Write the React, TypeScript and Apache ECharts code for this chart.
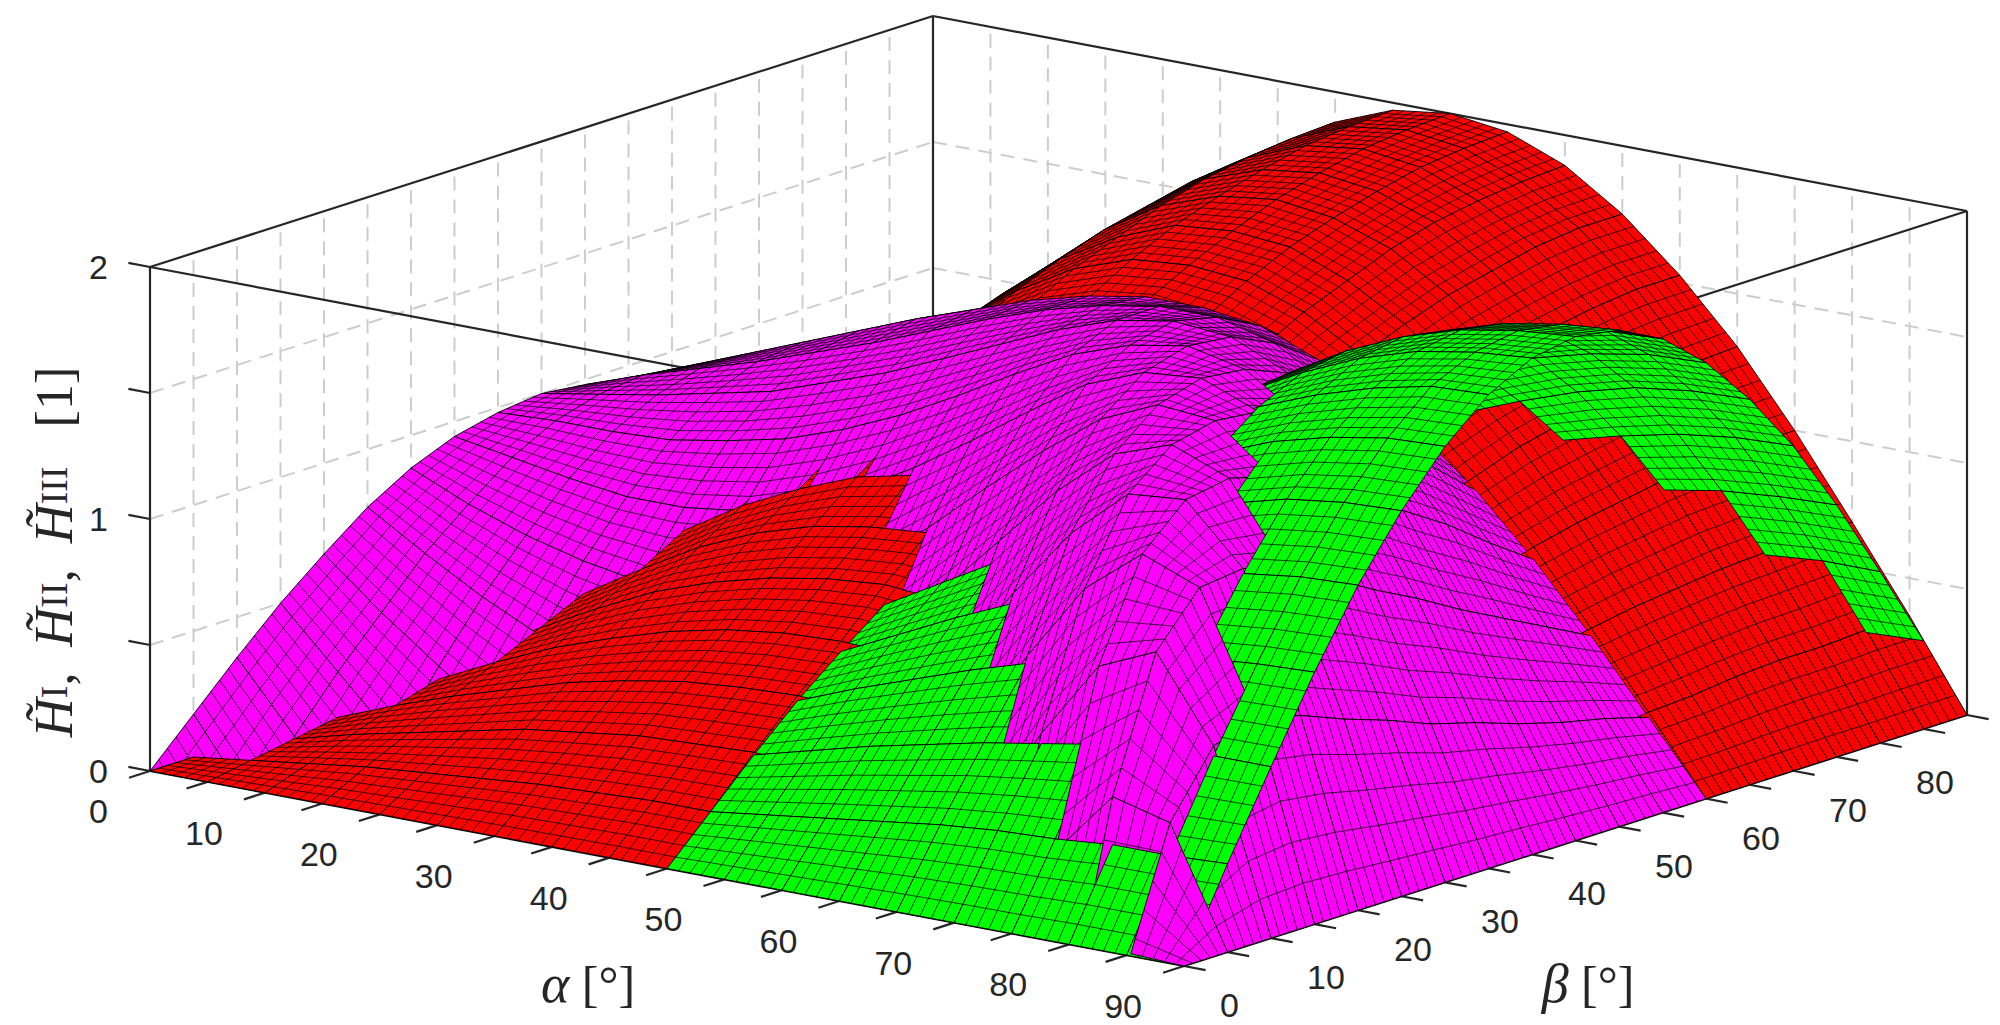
import React, { useEffect, useRef } from "react";
import * as echarts from "echarts";

// grid of the three surfaces: rows = alpha, columns = beta
const ALPHA = [0, 5, 10, 15, 20, 25, 30, 35, 40, 45, 50, 55, 60, 65, 70, 75, 80, 85, 90];
const BETA = [0, 5, 10, 15, 20, 25, 30, 35, 40, 45, 50, 55, 60, 65, 70, 75, 80, 85, 90];
const Z_TICKS = [0, 0.5, 1, 1.5, 2];
const Z_LABELS = [0, 1, 2];
const ALPHA_LABELS = [0, 10, 20, 30, 40, 50, 60, 70, 80, 90];
const BETA_LABELS = [0, 10, 20, 30, 40, 50, 60, 70, 80];

const H_I = [
  [0, 0, 0, 0, 0, 0, 0, 0, 0, 0, 0, 0, 0, 0, 0, 0, 0, 0, 0],
  [0, 0.03, 0.06, 0.09, 0.12, 0.15, 0.17, 0.2, 0.22, 0.25, 0.27, 0.28, 0.3, 0.31, 0.33, 0.34, 0.34, 0.35, 0.35],
  [0, 0.06, 0.12, 0.18, 0.23, 0.29, 0.34, 0.39, 0.44, 0.48, 0.52, 0.56, 0.59, 0.62, 0.64, 0.66, 0.67, 0.68, 0.68],
  [0, 0.09, 0.17, 0.26, 0.34, 0.42, 0.5, 0.57, 0.64, 0.71, 0.77, 0.82, 0.87, 0.91, 0.94, 0.97, 0.98, 1, 1],
  [0, 0.11, 0.22, 0.33, 0.44, 0.54, 0.64, 0.74, 0.83, 0.91, 0.98, 1.05, 1.11, 1.17, 1.21, 1.24, 1.27, 1.28, 1.29],
  [0, 0.13, 0.27, 0.4, 0.52, 0.65, 0.77, 0.88, 0.98, 1.08, 1.17, 1.26, 1.33, 1.39, 1.44, 1.48, 1.51, 1.53, 1.53],
  [0, 0.15, 0.3, 0.45, 0.59, 0.73, 0.87, 0.99, 1.11, 1.22, 1.33, 1.42, 1.5, 1.57, 1.63, 1.67, 1.71, 1.73, 1.73],
  [0, 0.16, 0.33, 0.49, 0.64, 0.79, 0.94, 1.08, 1.21, 1.33, 1.44, 1.54, 1.63, 1.7, 1.77, 1.82, 1.85, 1.87, 1.88],
  [0, 0.17, 0.34, 0.51, 0.67, 0.83, 0.98, 1.13, 1.27, 1.39, 1.51, 1.61, 1.71, 1.79, 1.85, 1.9, 1.94, 1.96, 1.97],
  [0, 0.17, 0.35, 0.52, 0.68, 0.85, 1, 1.15, 1.29, 1.41, 1.53, 1.64, 1.73, 1.81, 1.88, 1.93, 1.97, 1.99, 2],
  [0, 0.17, 0.34, 0.51, 0.67, 0.83, 0.98, 1.13, 1.27, 1.39, 1.51, 1.61, 1.71, 1.79, 1.85, 1.9, 1.94, 1.96, 1.97],
  [0, 0.16, 0.33, 0.49, 0.64, 0.79, 0.94, 1.08, 1.21, 1.33, 1.44, 1.54, 1.63, 1.7, 1.77, 1.82, 1.85, 1.87, 1.88],
  [0, 0.15, 0.3, 0.45, 0.59, 0.73, 0.87, 0.99, 1.11, 1.22, 1.33, 1.42, 1.5, 1.57, 1.63, 1.67, 1.71, 1.73, 1.73],
  [0, 0.13, 0.27, 0.4, 0.52, 0.65, 0.77, 0.88, 0.98, 1.08, 1.17, 1.26, 1.33, 1.39, 1.44, 1.48, 1.51, 1.53, 1.53],
  [0, 0.11, 0.22, 0.33, 0.44, 0.54, 0.64, 0.74, 0.83, 0.91, 0.98, 1.05, 1.11, 1.17, 1.21, 1.24, 1.27, 1.28, 1.29],
  [0, 0.09, 0.17, 0.26, 0.34, 0.42, 0.5, 0.57, 0.64, 0.71, 0.77, 0.82, 0.87, 0.91, 0.94, 0.97, 0.98, 1, 1],
  [0, 0.06, 0.12, 0.18, 0.23, 0.29, 0.34, 0.39, 0.44, 0.48, 0.52, 0.56, 0.59, 0.62, 0.64, 0.66, 0.67, 0.68, 0.68],
  [0, 0.03, 0.06, 0.09, 0.12, 0.15, 0.17, 0.2, 0.22, 0.25, 0.27, 0.28, 0.3, 0.31, 0.33, 0.34, 0.34, 0.35, 0.35],
  [0, 0, 0, 0, 0, 0, 0, 0, 0, 0, 0, 0, 0, 0, 0, 0, 0, 0, 0],
];

const H_II = [
  [0, 0, 0, 0, 0, 0, 0, 0, 0, 0, 0, 0, 0, 0, 0, 0, 0, 0, 0],
  [0, 0, 0.01, 0.01, 0.01, 0.01, 0.01, 0.01, 0.01, 0.02, 0.01, 0.01, 0.01, 0.01, 0.01, 0.01, 0.01, 0, 0],
  [0, 0.01, 0.02, 0.03, 0.04, 0.05, 0.05, 0.06, 0.06, 0.06, 0.06, 0.06, 0.05, 0.05, 0.04, 0.03, 0.02, 0.01, 0],
  [0, 0.02, 0.05, 0.07, 0.09, 0.1, 0.12, 0.13, 0.13, 0.13, 0.13, 0.13, 0.12, 0.1, 0.09, 0.07, 0.05, 0.02, 0],
  [0, 0.04, 0.08, 0.12, 0.15, 0.18, 0.2, 0.22, 0.23, 0.23, 0.23, 0.22, 0.2, 0.18, 0.15, 0.12, 0.08, 0.04, 0],
  [0, 0.06, 0.12, 0.18, 0.23, 0.27, 0.31, 0.34, 0.35, 0.36, 0.35, 0.34, 0.31, 0.27, 0.23, 0.18, 0.12, 0.06, 0],
  [0, 0.09, 0.17, 0.25, 0.32, 0.38, 0.43, 0.47, 0.49, 0.5, 0.49, 0.47, 0.43, 0.38, 0.32, 0.25, 0.17, 0.09, 0],
  [0, 0.11, 0.23, 0.33, 0.42, 0.5, 0.57, 0.62, 0.65, 0.66, 0.65, 0.62, 0.57, 0.5, 0.42, 0.33, 0.23, 0.11, 0],
  [0, 0.14, 0.28, 0.41, 0.53, 0.63, 0.72, 0.78, 0.81, 0.83, 0.81, 0.78, 0.72, 0.63, 0.53, 0.41, 0.28, 0.14, 0],
  [0, 0.17, 0.34, 0.5, 0.64, 0.77, 0.87, 0.94, 0.98, 1, 0.98, 0.94, 0.87, 0.77, 0.64, 0.5, 0.34, 0.17, 0],
  [0, 0.2, 0.4, 0.59, 0.75, 0.9, 1.02, 1.1, 1.16, 1.17, 1.16, 1.1, 1.02, 0.9, 0.75, 0.59, 0.4, 0.2, 0],
  [0, 0.23, 0.46, 0.67, 0.86, 1.03, 1.16, 1.26, 1.32, 1.34, 1.32, 1.26, 1.16, 1.03, 0.86, 0.67, 0.46, 0.23, 0],
  [0, 0.26, 0.51, 0.75, 0.96, 1.15, 1.3, 1.41, 1.48, 1.5, 1.48, 1.41, 1.3, 1.15, 0.96, 0.75, 0.51, 0.26, 0],
  [0, 0.29, 0.56, 0.82, 1.06, 1.26, 1.42, 1.54, 1.62, 1.64, 1.62, 1.54, 1.42, 1.26, 1.06, 0.82, 0.56, 0.29, 0],
  [0, 0.31, 0.6, 0.88, 1.14, 1.35, 1.53, 1.66, 1.74, 1.77, 1.74, 1.66, 1.53, 1.35, 1.14, 0.88, 0.6, 0.31, 0],
  [0, 0.32, 0.64, 0.93, 1.2, 1.43, 1.62, 1.75, 1.84, 1.87, 1.84, 1.75, 1.62, 1.43, 1.2, 0.93, 0.64, 0.32, 0],
  [0, 0.34, 0.66, 0.97, 1.25, 1.49, 1.68, 1.82, 1.91, 1.94, 1.91, 1.82, 1.68, 1.49, 1.25, 0.97, 0.66, 0.34, 0],
  [0, 0.34, 0.68, 0.99, 1.28, 1.52, 1.72, 1.87, 1.95, 1.98, 1.95, 1.87, 1.72, 1.52, 1.28, 0.99, 0.68, 0.34, 0],
  [0, 0.35, 0.68, 1, 1.29, 1.53, 1.73, 1.88, 1.97, 2, 1.97, 1.88, 1.73, 1.53, 1.29, 1, 0.68, 0.35, 0],
];

const H_III = [
  [0, 0.17, 0.34, 0.5, 0.64, 0.77, 0.87, 0.94, 0.98, 1, 0.98, 0.94, 0.87, 0.77, 0.64, 0.5, 0.34, 0.17, 0],
  [-0.35, -0.14, 0.07, 0.27, 0.45, 0.63, 0.77, 0.9, 0.99, 1.04, 1.06, 1.04, 0.98, 0.89, 0.76, 0.6, 0.42, 0.21, 0],
  [-0.68, -0.44, -0.2, 0.04, 0.28, 0.5, 0.69, 0.86, 0.99, 1.08, 1.13, 1.13, 1.09, 1, 0.87, 0.69, 0.49, 0.25, 0],
  [-1, -0.72, -0.44, -0.15, 0.12, 0.39, 0.63, 0.83, 1, 1.13, 1.2, 1.22, 1.19, 1.1, 0.96, 0.77, 0.55, 0.28, 0],
  [-1.28, -0.97, -0.65, -0.32, 0, 0.31, 0.59, 0.83, 1.04, 1.18, 1.28, 1.31, 1.28, 1.19, 1.04, 0.84, 0.6, 0.31, 0],
  [-1.52, -1.17, -0.81, -0.44, -0.07, 0.27, 0.59, 0.86, 1.09, 1.26, 1.36, 1.4, 1.37, 1.27, 1.11, 0.9, 0.64, 0.33, 0],
  [-1.71, -1.32, -0.91, -0.5, -0.1, 0.29, 0.63, 0.93, 1.17, 1.34, 1.45, 1.48, 1.44, 1.34, 1.16, 0.94, 0.66, 0.35, 0],
  [-1.84, -1.41, -0.96, -0.5, -0.06, 0.35, 0.72, 1.03, 1.27, 1.44, 1.54, 1.56, 1.5, 1.38, 1.2, 0.96, 0.67, 0.35, 0],
  [-1.91, -1.43, -0.94, -0.44, 0.04, 0.48, 0.85, 1.16, 1.39, 1.54, 1.62, 1.62, 1.54, 1.41, 1.21, 0.96, 0.67, 0.35, 0],
  [-1.91, -1.39, -0.84, -0.3, 0.2, 0.65, 1.02, 1.31, 1.52, 1.64, 1.68, 1.66, 1.56, 1.4, 1.2, 0.95, 0.66, 0.34, 0],
  [-1.85, -1.27, -0.67, -0.09, 0.43, 0.87, 1.22, 1.47, 1.64, 1.72, 1.72, 1.66, 1.54, 1.37, 1.16, 0.91, 0.63, 0.32, 0],
  [-1.71, -1.07, -0.42, 0.18, 0.7, 1.11, 1.41, 1.62, 1.72, 1.76, 1.72, 1.63, 1.49, 1.31, 1.09, 0.85, 0.58, 0.3, 0],
  [-1.52, -0.81, -0.11, 0.51, 1, 1.35, 1.58, 1.71, 1.76, 1.74, 1.66, 1.54, 1.39, 1.2, 1, 0.77, 0.52, 0.27, 0],
  [-1.26, -0.48, 0.26, 0.85, 1.28, 1.54, 1.68, 1.73, 1.71, 1.64, 1.53, 1.4, 1.24, 1.06, 0.87, 0.67, 0.45, 0.23, 0],
  [-0.95, -0.1, 0.64, 1.16, 1.48, 1.62, 1.66, 1.64, 1.56, 1.46, 1.34, 1.2, 1.05, 0.89, 0.72, 0.55, 0.37, 0.19, 0],
  [-0.6, 0.27, 0.95, 1.34, 1.5, 1.53, 1.48, 1.4, 1.3, 1.18, 1.07, 0.94, 0.82, 0.69, 0.56, 0.42, 0.28, 0.14, 0],
  [-0.27, 0.53, 1.05, 1.25, 1.27, 1.21, 1.12, 1.02, 0.93, 0.83, 0.74, 0.65, 0.56, 0.47, 0.37, 0.28, 0.19, 0.09, 0],
  [-0.05, 0.47, 0.72, 0.77, 0.73, 0.66, 0.6, 0.53, 0.48, 0.42, 0.37, 0.33, 0.28, 0.23, 0.19, 0.14, 0.09, 0.05, 0],
  [0, 0, 0, 0, 0, 0, 0, 0, 0, 0, 0, 0, 0, 0, 0, 0, 0, 0, 0],
];

const SURFACES = [
  { values: H_I, color: "#ff0000" },
  { values: H_II, color: "#00ff00" },
  { values: H_III, color: "#ff00ff" },
];

// 3-D axis box (view az ≈ -37.5°, el ≈ 14°) projected onto the chart plane
const Z_MIN = 0, Z_MAX = 2;
const VIEW = { ox: 150, oy: 771, ax: 11.489, ay: 2.1667, bx: 8.7, by: -2.7889, zy: -252 };
function P(a: number, b: number, z: number) {
  return [VIEW.ox + VIEW.ax * a + VIEW.bx * b, VIEW.oy + VIEW.ay * a + VIEW.by * b + VIEW.zy * z];
}
function depth(a: number, b: number, z: number) {
  const X = (a / 90) * 1303, Y = (b / 90) * 1286, Z = (z / 2) * 520;
  return -X * 0.5902 + Y * 0.7691 - Z * 0.2453;
}
function clipPlane(poly: number[][], fn: (p: number[]) => number) {
  const out: number[][] = [];
  for (let i = 0; i < poly.length; i++) {
    const p = poly[i], q = poly[(i + 1) % poly.length];
    const dp = fn(p), dq = fn(q);
    if (dp >= 0) out.push(p);
    if ((dp >= 0) !== (dq >= 0)) {
      const t = dp / (dp - dq);
      out.push([p[0] + t * (q[0] - p[0]), p[1] + t * (q[1] - p[1]), p[2] + t * (q[2] - p[2])]);
    }
  }
  return out;
}
const lerp = (p: number[], q: number[], t: number) => [p[0] + t * (q[0] - p[0]), p[1] + t * (q[1] - p[1]), p[2] + t * (q[2] - p[2])];
function clipSeg(p: number[], q: number[]) {
  const dz = q[2] - p[2];
  let t0 = 0, t1 = 1;
  if (Math.abs(dz) < 1e-12) {
    if (p[2] < Z_MIN || p[2] > Z_MAX) return null;
  } else {
    let ta = (Z_MIN - p[2]) / dz, tb = (Z_MAX - p[2]) / dz;
    if (ta > tb) [ta, tb] = [tb, ta];
    t0 = Math.max(t0, ta);
    t1 = Math.min(t1, tb);
    if (t0 >= t1) return null;
  }
  return [lerp(p, q, t0), lerp(p, q, t1)];
}

export default function App() {
  const ref = useRef<HTMLDivElement>(null);
  useEffect(() => {
    document.body.style.margin = "0";
    const chart = echarts.init(ref.current!, null, { renderer: "svg" });

    const cells: any[] = [];
    SURFACES.forEach(({ values, color }) => {
      for (let i = 0; i < ALPHA.length - 1; i++)
        for (let j = 0; j < BETA.length - 1; j++) {
          const q = [
            [ALPHA[i], BETA[j], values[i][j]],
            [ALPHA[i + 1], BETA[j], values[i + 1][j]],
            [ALPHA[i + 1], BETA[j + 1], values[i + 1][j + 1]],
            [ALPHA[i], BETA[j + 1], values[i][j + 1]],
          ];
          let cp = clipPlane(q, (p) => p[2] - Z_MIN);
          cp = clipPlane(cp, (p) => Z_MAX - p[2]);
          if (cp.length < 3) continue;
          let d = 0;
          cp.forEach((p) => (d += depth(p[0], p[1], p[2])));
          const segs: number[][][] = [];
          for (let k = 1; k < 5; k++) {
            const t = k / 5;
            for (const [p1, p2] of [[lerp(q[0], q[1], t), lerp(q[3], q[2], t)], [lerp(q[0], q[3], t), lerp(q[1], q[2], t)]]) {
              const c = clipSeg(p1, p2);
              if (c) segs.push([P(c[0][0], c[0][1], c[0][2]), P(c[1][0], c[1][1], c[1][2])]);
            }
          }
          cells.push({ d: d / cp.length, color, pts: cp.map((p) => P(p[0], p[1], p[2])), segs });
        }
    });
    cells.sort((x, y) => y.d - x.d);

    const line = (p1: number[], p2: number[], style: any) => ({ type: "line", silent: true, shape: { x1: p1[0], y1: p1[1], x2: p2[0], y2: p2[1] }, style });
    const dashed = { stroke: "#cdcdcd", lineWidth: 2, lineDash: [14, 9] };
    const edge = { stroke: "#262626", lineWidth: 2.2 };
    const back: any[] = [];
    for (let k = 5; k < 90; k += 5) {
      back.push(line(P(0, k, 0), P(0, k, 2), dashed));
      back.push(line(P(k, 90, 0), P(k, 90, 2), dashed));
      back.push(line(P(k, 0, 0), P(k, 90, 0), dashed));
      back.push(line(P(0, k, 0), P(90, k, 0), dashed));
    }
    [0.5, 1, 1.5].forEach((z) => {
      back.push(line(P(0, 0, z), P(0, 90, z), dashed));
      back.push(line(P(0, 90, z), P(90, 90, z), dashed));
    });
    back.push(line(P(0, 90, 0), P(0, 90, 2), edge));
    back.push(line(P(0, 0, 0), P(0, 90, 0), edge));
    back.push(line(P(0, 90, 0), P(90, 90, 0), edge));
    back.push(line(P(0, 0, 2), P(0, 90, 2), edge));
    back.push(line(P(0, 90, 2), P(90, 90, 2), edge));

    const front: any[] = [
      line(P(0, 0, 0), P(0, 0, 2), edge),
      line(P(90, 90, 0), P(90, 90, 2), edge),
      line(P(90, 0, 0), P(90, 0, 2), edge),
      line(P(0, 0, 2), P(90, 0, 2), edge),
      line(P(90, 0, 2), P(90, 90, 2), edge),
      line(P(0, 0, 0), P(90, 0, 0), edge),
      line(P(90, 0, 0), P(90, 90, 0), edge),
    ];
    const tl = 22;
    const font = "'Liberation Sans', Arial, Helvetica, sans-serif";
    const lab = (x: number, y: number, text: string, align: string) => ({ type: "text", silent: true, x, y, style: { text, font: `34px ${font}`, fill: "#262626", align, verticalAlign: "middle" } });
    Z_TICKS.forEach((z) => {
      const p = P(0, 0, z);
      front.push(line(p, [p[0] - 0.9827 * tl, p[1] - 0.1853 * tl], edge));
    });
    Z_LABELS.forEach((z) => { const p = P(0, 0, z); front.push(lab(p[0] - 42, p[1], String(z), "right")); });
    for (let k = 0; k <= 90; k += 5) {
      const pa = P(k, 0, 0);
      front.push(line(pa, [pa[0] - 0.952 * tl, pa[1] + 0.305 * tl], edge));
      const pb = P(90, k, 0);
      front.push(line(pb, [pb[0] + 0.9827 * tl, pb[1] + 0.1853 * tl], edge));
    }
    ALPHA_LABELS.forEach((k) => { const p = P(k, 0, 0); front.push(lab(p[0] - 42, p[1] + 40, String(k), "right")); });
    BETA_LABELS.forEach((k) => { const p = P(90, k, 0); front.push(lab(p[0] + 36, p[1] + 39, String(k), "left")); });

    const serif = "'Liberation Serif', 'DejaVu Serif', 'Times New Roman', serif";
    const ink = "#262626";
    front.push({ type: "text", silent: true, x: 588, y: 984, style: { text: "{i|α} [°]", font: `50px ${serif}`, fill: ink, align: "center", verticalAlign: "middle", rich: { i: { font: `italic 54px ${serif}`, fill: ink } } } });
    front.push({ type: "text", silent: true, x: 1588, y: 984, style: { text: "{i|β} [°]", font: `50px ${serif}`, fill: ink, align: "center", verticalAlign: "middle", rich: { i: { font: `italic 54px ${serif}`, fill: ink } } } });
    front.push({
      type: "text", silent: true, x: 54, y: 552, rotation: Math.PI / 2,
      style: {
        text: "{h|H\u0303}{s|I}{n|,  }{h|H\u0303}{s|II}{n|,  }{h|H\u0303}{s|III}{n|   [1]}",
        align: "center", verticalAlign: "middle", fill: ink,
        rich: {
          h: { font: `italic 54px ${serif}`, fill: ink, verticalAlign: "middle", height: 66 },
          s: { font: `38px ${serif}`, fill: ink, verticalAlign: "bottom", height: 66 },
          n: { font: `52px ${serif}`, fill: ink, verticalAlign: "middle", height: 66 },
        },
      },
    });

    chart.setOption({
      animation: false,
      grid: { left: 0, right: 0, top: 0, bottom: 0 },
      xAxis: { type: "value", min: 0, max: 2000, show: false },
      yAxis: { type: "value", min: 0, max: 1025, inverse: true, show: false },
      graphic: [
        { type: "group", z: 0, silent: true, children: back },
        { type: "group", z: 100, silent: true, children: front },
      ],
      series: [{
        type: "custom", z: 10, progressive: 0, clip: false, silent: true,
        data: cells.map((_, i) => i),
        renderItem: (p: any, api: any) => {
          const o = cells[p.dataIndex];
          const ch: any[] = [{ type: "polygon", shape: { points: o.pts.map((q: number[]) => api.coord(q)) }, style: { fill: o.color, stroke: "#000", lineWidth: 0.9 } }];
          o.segs.forEach((s: number[][]) => {
            const a = api.coord(s[0]), b = api.coord(s[1]);
            ch.push({ type: "line", shape: { x1: a[0], y1: a[1], x2: b[0], y2: b[1] }, style: { stroke: "#000", lineWidth: 0.9, opacity: 0.8 } });
          });
          return { type: "group", children: ch };
        },
      }],
    });
    return () => chart.dispose();
  }, []);
  return <div ref={ref} style={{ width: 2000, height: 1025 }} />;
}
